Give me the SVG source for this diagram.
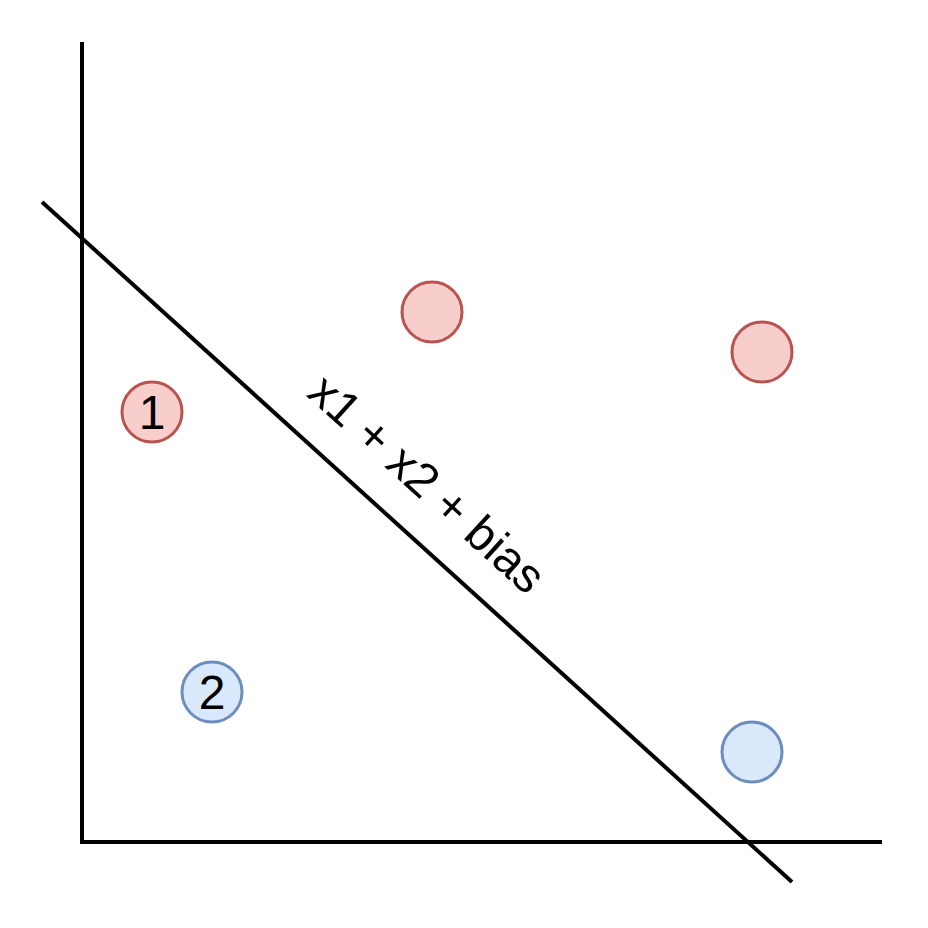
<svg xmlns="http://www.w3.org/2000/svg" width="928" height="928" viewBox="0 0 928 928">
<style>
.ax{stroke:#000;stroke-width:4;fill:none}
.red{fill:#f8cecc;stroke:#b85450;stroke-width:3}
.blue{fill:#dae8fc;stroke:#6c8ebf;stroke-width:3}
.t{font-family:"Liberation Sans",Arial,sans-serif;font-size:48px;fill:#000}
</style>
<rect width="928" height="928" fill="#fff"/>
<g id="connectors">
<line class="ax" x1="82" y1="42" x2="82" y2="844"/>
<line class="ax" x1="80" y1="842" x2="882" y2="842"/>
<line class="ax" x1="42" y1="202" x2="792" y2="882"/>
</g>
<g id="label">
<text class="t" text-anchor="middle" transform="translate(427,484) rotate(42.2)" y="16">x1 + x2 + bias</text>
</g>
<g id="p1"><circle class="red" cx="152" cy="412" r="30"/><text class="t" x="152" y="429" text-anchor="middle">1</text></g>
<g id="p2"><circle class="blue" cx="212" cy="692" r="30"/><text class="t" x="212" y="709" text-anchor="middle">2</text></g>
<g id="p3"><circle class="red" cx="432" cy="312" r="30"/></g>
<g id="p4"><circle class="red" cx="762" cy="352" r="30"/></g>
<g id="p5"><circle class="blue" cx="752" cy="752" r="30"/></g>
</svg>
